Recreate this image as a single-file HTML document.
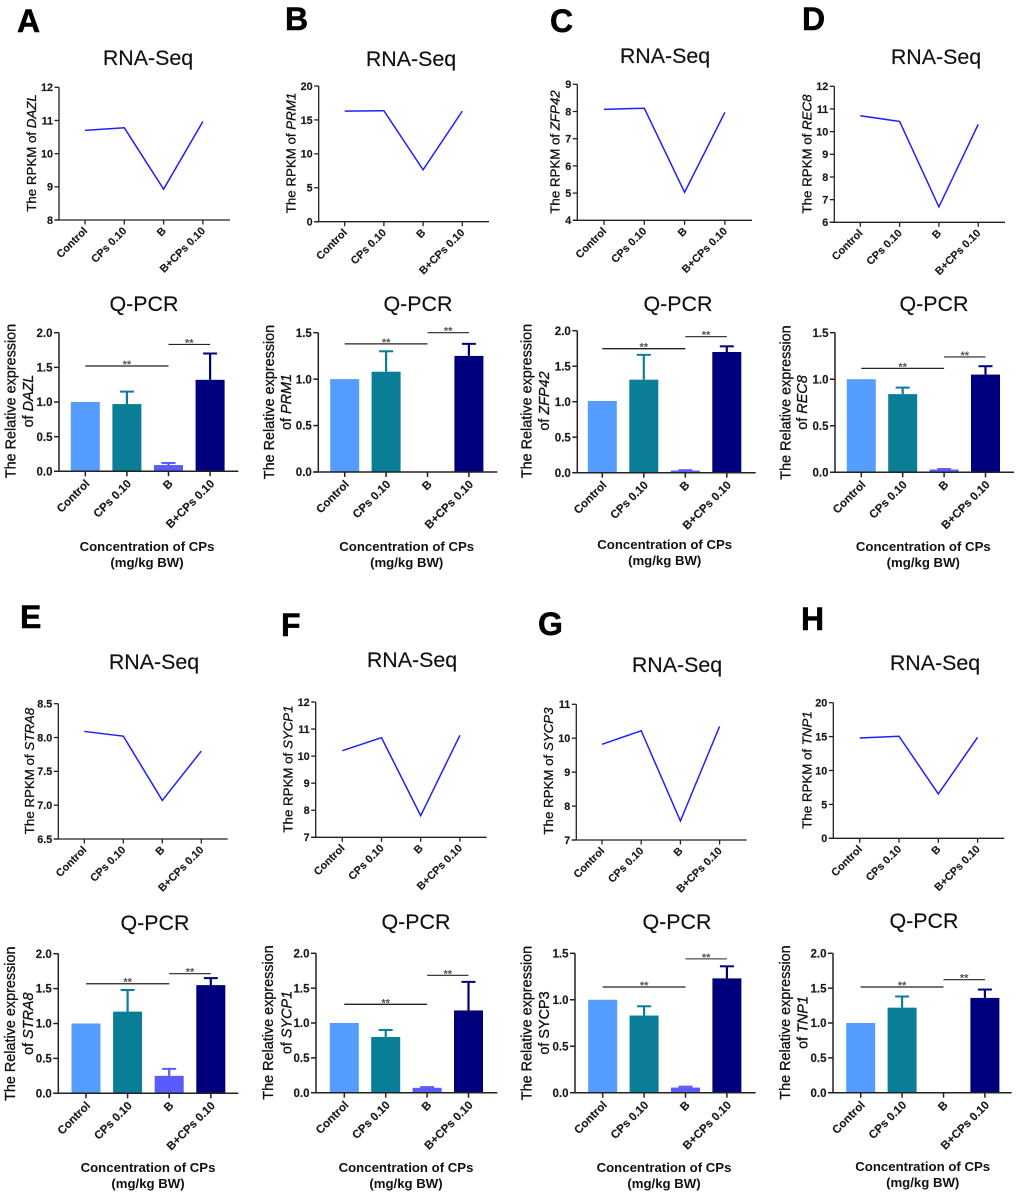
<!DOCTYPE html>
<html lang="en">
<head>
<meta charset="utf-8">
<title>RNA-Seq and Q-PCR panels</title>
<style>
html,body{margin:0;padding:0;background:#fff}
svg{display:block;font-family:"Liberation Sans",Arial,sans-serif;filter:blur(0.3px)}
.letter{font-size:32px;font-weight:bold;fill:#000;stroke:#000;stroke-width:.5px}
.title{font-size:21.4px;fill:#111;text-anchor:middle;stroke:#111;stroke-width:.15px}
.ytitle{font-size:13.3px;fill:#111;text-anchor:middle;stroke:#111;stroke-width:.3px}
.qtitle{font-size:14.4px;fill:#111;text-anchor:middle;stroke:#111;stroke-width:.3px}
.xtitle{font-size:13.2px;font-weight:bold;fill:#111;text-anchor:middle}
i,.it{font-style:italic}
.tick{font-weight:bold;fill:#1a1a1a;stroke:#1a1a1a;stroke-width:.15px}
</style>
</head>
<body>
<svg id="figure" width="1020" height="1196" viewBox="0 0 1020 1196" xmlns="http://www.w3.org/2000/svg">
<rect width="1020" height="1196" fill="#fff"/>

<text class="letter" x="17" y="32">A</text>
<text class="letter" x="285" y="30">B</text>
<text class="letter" x="550" y="32">C</text>
<text class="letter" x="802" y="30">D</text>
<text class="letter" x="20" y="628">E</text>
<text class="letter" x="281" y="636">F</text>
<text class="letter" x="538" y="635">G</text>
<text class="letter" x="801" y="630">H</text>

<text class="title" x="148" y="65">RNA-Seq</text>
<text class="title" x="411" y="66">RNA-Seq</text>
<text class="title" x="665" y="63">RNA-Seq</text>
<text class="title" x="936" y="64">RNA-Seq</text>
<text class="title" x="154" y="669">RNA-Seq</text>
<text class="title" x="412" y="667">RNA-Seq</text>
<text class="title" x="677" y="672">RNA-Seq</text>
<text class="title" x="935" y="670">RNA-Seq</text>

<text class="title" x="144" y="311">Q-PCR</text>
<text class="title" x="418" y="311">Q-PCR</text>
<text class="title" x="678" y="311">Q-PCR</text>
<text class="title" x="934" y="311">Q-PCR</text>
<text class="title" x="155" y="930">Q-PCR</text>
<text class="title" x="416" y="929">Q-PCR</text>
<text class="title" x="677" y="929">Q-PCR</text>
<text class="title" x="924" y="928">Q-PCR</text>

<text class="ytitle" transform="translate(36,153) rotate(-90)">The RPKM of <tspan class="it">DAZL</tspan></text>
<text class="ytitle" transform="translate(295.5,153) rotate(-90)">The RPKM of <tspan class="it">PRM1</tspan></text>
<text class="ytitle" transform="translate(559.7,152) rotate(-90)">The RPKM of <tspan class="it">ZFP42</tspan></text>
<text class="ytitle" transform="translate(811.4,154) rotate(-90)">The RPKM of <tspan class="it">REC8</tspan></text>
<text class="ytitle" transform="translate(34,771) rotate(-90)">The RPKM of <tspan class="it">STRA8</tspan></text>
<text class="ytitle" transform="translate(292.7,769) rotate(-90)">The RPKM of <tspan class="it">SYCP1</tspan></text>
<text class="ytitle" transform="translate(553,771) rotate(-90)">The RPKM of <tspan class="it">SYCP3</tspan></text>
<text class="ytitle" transform="translate(811.4,770) rotate(-90)">The RPKM of <tspan class="it">TNP1</tspan></text>

<g>
<text class="qtitle" transform="translate(15.5,401) rotate(-90)">The Relative expression</text>
<text class="qtitle" transform="translate(33.2,401) rotate(-90)">of <tspan class="it">DAZL</tspan></text>
</g>
<g>
<text class="qtitle" transform="translate(274,402) rotate(-90)">The Relative expression</text>
<text class="qtitle" transform="translate(291,402) rotate(-90)">of <tspan class="it">PRM1</tspan></text>
</g>
<g>
<text class="qtitle" transform="translate(531.7,401) rotate(-90)">The Relative expression</text>
<text class="qtitle" transform="translate(549,401) rotate(-90)">of <tspan class="it">ZFP42</tspan></text>
</g>
<g>
<text class="qtitle" transform="translate(790.7,402.5) rotate(-90)">The Relative expression</text>
<text class="qtitle" transform="translate(807,402.5) rotate(-90)">of <tspan class="it">REC8</tspan></text>
</g>
<g>
<text class="qtitle" transform="translate(15,1023.7) rotate(-90)">The Relative expression</text>
<text class="qtitle" transform="translate(33,1023.7) rotate(-90)">of <tspan class="it">STRA8</tspan></text>
</g>
<g>
<text class="qtitle" transform="translate(273,1022.5) rotate(-90)">The Relative expression</text>
<text class="qtitle" transform="translate(291.7,1022.5) rotate(-90)">of <tspan class="it">SYCP1</tspan></text>
</g>
<g>
<text class="qtitle" transform="translate(531.7,1023) rotate(-90)">The Relative expression</text>
<text class="qtitle" transform="translate(549,1023) rotate(-90)">of SYCP3</text>
</g>
<g>
<text class="qtitle" transform="translate(790,1022.5) rotate(-90)">The Relative expression</text>
<text class="qtitle" transform="translate(807.3,1022.5) rotate(-90)">of <tspan class="it">TNP1</tspan></text>
</g>

<g><text class="xtitle" x="147" y="551">Concentration of CPs</text><text class="xtitle" x="147" y="567">(mg/kg BW)</text></g>
<g><text class="xtitle" x="406.7" y="551">Concentration of CPs</text><text class="xtitle" x="406.7" y="567">(mg/kg BW)</text></g>
<g><text class="xtitle" x="664.7" y="549">Concentration of CPs</text><text class="xtitle" x="664.7" y="565">(mg/kg BW)</text></g>
<g><text class="xtitle" x="923.3" y="551">Concentration of CPs</text><text class="xtitle" x="923.3" y="567">(mg/kg BW)</text></g>
<g><text class="xtitle" x="148" y="1172">Concentration of CPs</text><text class="xtitle" x="148" y="1188">(mg/kg BW)</text></g>
<g><text class="xtitle" x="406" y="1172">Concentration of CPs</text><text class="xtitle" x="406" y="1188">(mg/kg BW)</text></g>
<g><text class="xtitle" x="664" y="1172">Concentration of CPs</text><text class="xtitle" x="664" y="1188">(mg/kg BW)</text></g>
<g><text class="xtitle" x="922.7" y="1171">Concentration of CPs</text><text class="xtitle" x="922.7" y="1187">(mg/kg BW)</text></g>
</svg>

<script>
const categories = ['Control', 'CPs 0.10', 'B', 'B+CPs 0.10'];
const barColors = ['#559cff', '#0a7d97', '#5a5aff', '#00007f'];

// RNA-Seq y-axis ticks
const rpkmTicksA = [8, 9, 10, 11, 12];
const rpkmTicksB = [0, 5, 10, 15, 20];
const rpkmTicksC = [4, 5, 6, 7, 8, 9];
const rpkmTicksD = [6, 7, 8, 9, 10, 11, 12];
const rpkmTicksE = [6.5, 7.0, 7.5, 8.0, 8.5];
const rpkmTicksF = [7, 8, 9, 10, 11, 12];
const rpkmTicksG = [7, 8, 9, 10, 11];
const rpkmTicksH = [0, 5, 10, 15, 20];

// RNA-Seq values
const rpkmDazl = [10.7, 10.78, 8.93, 10.97];
const rpkmPrm1 = [16.3, 16.35, 7.65, 16.3];
const rpkmZfp42 = [8.08, 8.12, 5.03, 7.97];
const rpkmRec8 = [10.7, 10.45, 6.68, 10.32];
const rpkmStra8 = [8.09, 8.02, 7.07, 7.8];
const rpkmSycp1 = [10.2, 10.68, 7.8, 10.77];
const rpkmSycp3 = [9.82, 10.22, 7.56, 10.35];
const rpkmTnp1 = [14.8, 15.05, 6.55, 14.9];

// Q-PCR y-axis ticks
const exprTicksWide = [0, 0.5, 1.0, 1.5, 2.0];
const exprTicksNarrow = [0, 0.5, 1.0, 1.5];

// Q-PCR bar heights
const exprDazl = [1.0, 0.97, 0.09, 1.32];
const exprPrm1 = [1.0, 1.08, 0.005, 1.25];
const exprZfp42 = [1.01, 1.31, 0.03, 1.70];
const exprRec8 = [1.0, 0.84, 0.03, 1.05];
const exprStra8 = [1.0, 1.17, 0.25, 1.55];
const exprSycp1 = [1.0, 0.80, 0.07, 1.18];
const exprSycp3 = [1.0, 0.83, 0.055, 1.23];
const exprTnp1 = [1.0, 1.22, 0, 1.36];

// Q-PCR error bar tops (null = no error bar)
const errTopDazl = [null, 1.15, 0.12, 1.70];
const errTopPrm1 = [null, 1.30, null, 1.38];
const errTopZfp42 = [null, 1.66, 0.035, 1.78];
const errTopRec8 = [null, 0.91, 0.035, 1.14];
const errTopStra8 = [null, 1.48, 0.35, 1.65];
const errTopSycp1 = [null, 0.90, 0.08, 1.59];
const errTopSycp3 = [null, 0.93, 0.065, 1.36];
const errTopTnp1 = [null, 1.38, null, 1.48];

// Significance bracket levels: [Control-to-B, B-to-B+CPs]
const sigDazl = [1.52, 1.83];
const sigPrm1 = [1.38, 1.50];
const sigZfp42 = [1.747, 1.915];
const sigRec8 = [1.117, 1.24];
const sigStra8 = [1.57, 1.713];
const sigSycp1 = [1.268, 1.684];
const sigSycp3 = [1.137, 1.44];
const sigTnp1 = [1.517, 1.622];

const SVGNS = 'http://www.w3.org/2000/svg';
const figure = document.getElementById('figure');

function make(parent, tag, props) {
  const el = document.createElementNS(SVGNS, tag);
  for (const k in props) el.setAttribute(k, props[k]);
  parent.appendChild(el);
  return el;
}

function makeScales(frame, ticks) {
  const lo = ticks[0];
  const hi = ticks[ticks.length - 1];
  return {
    y: function (v) { return frame.bot - (v - lo) / (hi - lo) * (frame.bot - frame.top); },
    x: function (i) { return frame.x0 + i * frame.step; }
  };
}

function drawAxes(g, frame, scales, ticks, decimals, fontSize, tickLen, weight, labelDx, labelDy) {
  const yAxis = make(g, 'line', { x1: frame.ax, y1: frame.top, x2: frame.ax, y2: frame.bot, stroke: '#222', 'stroke-width': weight });
  
  
  const xAxis = make(g, 'line', { x1: frame.ax - tickLen, y1: frame.bot, x2: frame.end, y2: frame.bot, stroke: '#222', 'stroke-width': weight });
  
  

  ticks.forEach(function (t) {
    const py = scales.y(t);
    const tickMark = make(g, 'line', { x1: frame.ax - tickLen, y1: py, x2: frame.ax, y2: py, stroke: '#222', 'stroke-width': weight });
    
    
    const label = make(g, 'text', { x: frame.ax - tickLen - 1.5, y: py + fontSize * 0.36, 'text-anchor': 'end', 'font-size': fontSize, class: 'tick' });
    label.textContent = t.toFixed(decimals);
    
    
  });

  categories.forEach(function (c, i) {
    const px = scales.x(i);
    const tickMark = make(g, 'line', { x1: px, y1: frame.bot, x2: px, y2: frame.bot + tickLen, stroke: '#222', 'stroke-width': weight });
    
    
    const label = make(g, 'text', { transform: 'translate(' + (px + labelDx) + ',' + (frame.bot + labelDy) + ') rotate(-45)', 'text-anchor': 'end', 'font-size': fontSize, class: 'tick' });
    label.textContent = c;
    
    
  });
}

function drawRna(gene, values, ticks, decimals, frame) {
  const g = make(figure, 'g', {});
  
  
  const scales = makeScales(frame, ticks);
  drawAxes(g, frame, scales, ticks, decimals, 10.8, 4.5, 1.3, 3, 11.5);
  const pts = values.map(function (v, i) { return scales.x(i) + ',' + scales.y(v); }).join(' ');
  const line = make(g, 'polyline', { points: pts, fill: 'none', stroke: '#2020ff', 'stroke-width': 1.5, 'stroke-linejoin': 'miter' });
  
  
}

function drawBracket(g, scales, frame, fromIdx, toIdx, level, thick) {
  const py = scales.y(level);
  const x1 = scales.x(fromIdx);
  const x2 = scales.x(toIdx);
  const bracket = make(g, 'line', { x1: x1, y1: py, x2: x2, y2: py, stroke: '#222', 'stroke-width': thick });
  
  
  const stars = make(g, 'text', { x: (x1 + x2) / 2, y: py + 2, 'text-anchor': 'middle', 'font-size': 11, 'font-weight': 'bold', fill: '#555' });
  stars.textContent = '**';
  
  
}

function drawBars(gene, values, errTops, levels, ticks, frame) {
  const g = make(figure, 'g', {});
  
  
  const scales = makeScales(frame, ticks);
  const barW = 29;
  values.forEach(function (v, i) {
    const px = scales.x(i);
    const top = scales.y(v);
    const color = barColors[i];
    if (errTops[i] !== null) {
      const et = scales.y(errTops[i]);
      const stem = make(g, 'line', { x1: px, y1: et, x2: px, y2: top, stroke: color, 'stroke-width': 2.2 });
      
      
      const cap = make(g, 'line', { x1: px - 7, y1: et, x2: px + 7, y2: et, stroke: color, 'stroke-width': 2 });
      
      
    }
    const bar = make(g, 'rect', { x: px - barW / 2, y: top, width: barW, height: Math.max(0, frame.bot - top), fill: color });
    
    
  });
  drawAxes(g, frame, scales, ticks, 1, 11.5, 5, 1.5, 5, 13);
  drawBracket(g, scales, frame, 0, 2, levels[0], 1.3);
  drawBracket(g, scales, frame, 2, 3, levels[1], 1.1);
}

drawRna('dazl', rpkmDazl, rpkmTicksA, 0, { ax: 59, top: 87.3, bot: 220, x0: 85, step: 39.3, end: 230 });
drawRna('prm1', rpkmPrm1, rpkmTicksB, 0, { ax: 318.7, top: 86, bot: 221.7, x0: 344.7, step: 39.2, end: 489 });
drawRna('zfp42', rpkmZfp42, rpkmTicksC, 0, { ax: 577.3, top: 84.3, bot: 220.3, x0: 604, step: 40.3, end: 752 });
drawRna('rec8', rpkmRec8, rpkmTicksD, 0, { ax: 834.3, top: 86.3, bot: 222.3, x0: 860.3, step: 39.3, end: 1005 });
drawRna('stra8', rpkmStra8, rpkmTicksE, 1, { ax: 58.3, top: 703.7, bot: 839, x0: 84.3, step: 39, end: 227.7 });
drawRna('sycp1', rpkmSycp1, rpkmTicksF, 0, { ax: 315.7, top: 702, bot: 837.3, x0: 342.3, step: 39.2, end: 486.7 });
drawRna('sycp3', rpkmSycp3, rpkmTicksG, 0, { ax: 576.3, top: 704.3, bot: 840, x0: 602, step: 39.2, end: 746.7 });
drawRna('tnp1', rpkmTnp1, rpkmTicksH, 0, { ax: 833.3, top: 702.7, bot: 838.3, x0: 859.7, step: 39.3, end: 1004.3 });

drawBars('dazl', exprDazl, errTopDazl, sigDazl, exprTicksWide, { ax: 59, top: 332.7, bot: 471.3, x0: 85.3, step: 41.6, end: 238.3 });
drawBars('prm1', exprPrm1, errTopPrm1, sigPrm1, exprTicksNarrow, { ax: 318.3, top: 332.7, bot: 472, x0: 344.7, step: 41.4, end: 497.3 });
drawBars('zfp42', exprZfp42, errTopZfp42, sigZfp42, exprTicksWide, { ax: 577.3, top: 330.7, bot: 472.7, x0: 602.3, step: 41.5, end: 755.7 });
drawBars('rec8', exprRec8, errTopRec8, sigRec8, exprTicksNarrow, { ax: 835, top: 332.7, bot: 472.3, x0: 861.3, step: 41.4, end: 1014 });
drawBars('stra8', exprStra8, errTopStra8, sigStra8, exprTicksWide, { ax: 58.3, top: 953.7, bot: 1093.3, x0: 86, step: 41.6, end: 238.3 });
drawBars('sycp1', exprSycp1, errTopSycp1, sigSycp1, exprTicksWide, { ax: 316, top: 953.3, bot: 1092.7, x0: 344.3, step: 41.4, end: 497.3 });
drawBars('sycp3', exprSycp3, errTopSycp3, sigSycp3, exprTicksNarrow, { ax: 575, top: 953.3, bot: 1092.7, x0: 602.7, step: 41.4, end: 755.7 });
drawBars('tnp1', exprTnp1, errTopTnp1, sigTnp1, exprTicksWide, { ax: 833, top: 953.3, bot: 1092.7, x0: 860.7, step: 41.4, end: 1011.7 });
</script>
</body>
</html>
